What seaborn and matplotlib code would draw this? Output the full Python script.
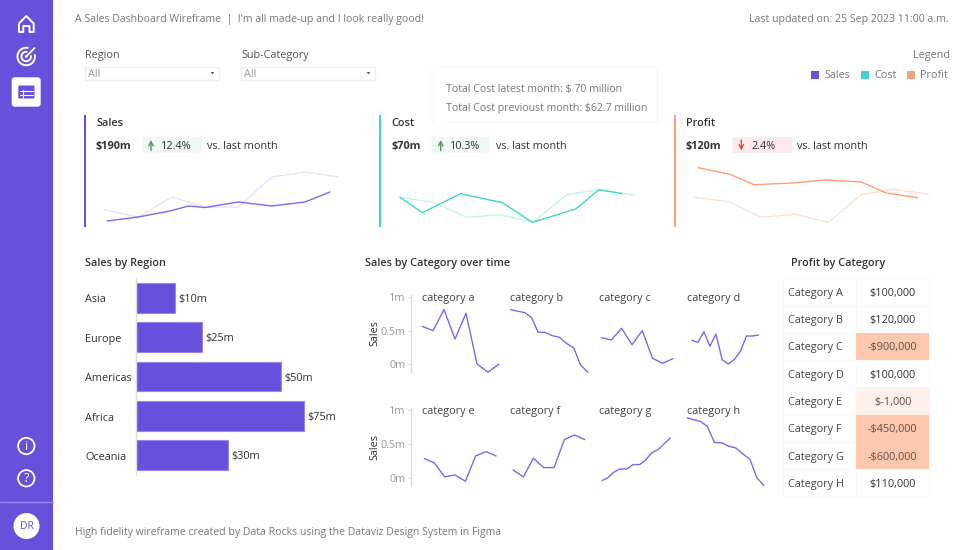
#!/usr/bin/env python3
"""
Sales dashboard wireframe rebuilt with seaborn
"""

import numpy as np
import pandas as pd
import matplotlib
matplotlib.use('Agg')
import matplotlib.pyplot as plt
import seaborn as sns
from matplotlib.colors import ListedColormap, BoundaryNorm
from matplotlib.patches import Rectangle, FancyBboxPatch, Circle, Arc, Polygon
from matplotlib.transforms import ScaledTranslation

# Colours
PURPLE = '#6650dc'
LINE_PURPLE = '#7b68ee'
TEAL = '#40d5ca'
ORANGE = '#ff9d78'
DARK = '#333333'
GREY = '#777777'
LIGHT_GREY = '#999999'
FS = 7.85

# KPI sparklines (index values), current and previous month
sales_t = [0.06, 1, 1.95, 2.5, 3, 4, 5, 6, 6.75]
sales_now = [7, 11, 17, 22, 20.5, 26, 22, 26, 36]
sales_prev = [18, 11, 31, 21, 21, 51, 56, 51]

cost_t = [0, 0.67, 1.82, 3.07, 3.97, 5.27, 5.97, 6.67]
cost_now = [30.7, 15.3, 34.3, 25.3, 5.7, 19, 38.3, 34.3]
cost_prev = [30.7, 25.7, 10.7, 13.3, 5.7, 33.3, 38.3, 33]

profit_t = [0.1, 1.05, 1.77, 2.92, 3.92, 4.99, 5.73, 6.68]
profit_now = [60.3, 53.7, 43.3, 45, 48, 46, 35, 30.3]
profit_prev = [30.7, 26.3, 10.7, 13.7, 5.7, 33.7, 38.7, 33.7]

prev_t = [0, 1, 2, 3, 4, 5, 6, 7]

# Sales by region: the drawn bars do not follow their own labels in the original
regions = ['Asia', 'Europe', 'Americas', 'Africa', 'Oceania']
region_bars = [17.5, 29.5, 64.7, 75, 41.2]
region_labels = ['$10m', '$25m', '$50m', '$75m', '$30m']

# Sales by category over time
cat_a_t = [0, 1, 2, 3, 4, 5, 6, 7]
cat_a = [0.567, 0.502, 0.816, 0.378, 0.761, 0.005, -0.119, 0.005]
cat_b_t = [0, 1.3, 1.91, 2.52, 3.12, 3.79, 4.45, 5.09, 5.76, 6.36, 7.03]
cat_b = [0.816, 0.771, 0.701, 0.478, 0.478, 0.428, 0.403, 0.313, 0.244, -0.005, -0.119]
cat_c_t = [0.23, 1.14, 2.07, 3.02, 3.95, 4.88, 5.79, 6.74]
cat_c = [0.397, 0.363, 0.537, 0.293, 0.501, 0.09, 0.015, 0.084]
cat_d_t = [0.43, 0.97, 1.52, 2.06, 2.61, 3.18, 3.73, 4.3, 4.85, 5.39, 5.94, 6.48]
cat_d = [0.358, 0.328, 0.487, 0.269, 0.452, 0.069, 0.004, 0.075, 0.199, 0.422, 0.422, 0.437]
cat_e_t = [0.21, 1.12, 2.06, 3, 3.94, 4.88, 5.82, 6.73]
cat_e = [0.286, 0.222, 0.015, 0.044, -0.049, 0.325, 0.389, 0.325]
cat_f_t = [0.24, 1.18, 2.09, 3.03, 3.97, 4.91, 5.82, 6.76]
cat_f = [0.118, 0.015, 0.291, 0.153, 0.153, 0.567, 0.635, 0.567]
cat_g_t = [0.29, 0.8, 1.35, 1.95, 2.56, 3.11, 3.71, 4.26, 4.8, 5.44, 5.95, 6.5]
cat_g = [-0.039, 0, 0.084, 0.133, 0.133, 0.197, 0.197, 0.266, 0.369, 0.424, 0.507, 0.591]
cat_h_t = [0, 1.18, 1.82, 2.48, 3.12, 3.79, 4.42, 5.06, 5.7, 6.33, 6.97]
cat_h = [0.887, 0.837, 0.764, 0.522, 0.522, 0.468, 0.443, 0.355, 0.276, 0.005, -0.113]

# Profit by category
categories = ['Category A', 'Category B', 'Category C', 'Category D',
              'Category E', 'Category F', 'Category G', 'Category H']
profit_values = [100000, 120000, -900000, 100000, -1000, -450000, -600000, 110000]
profit_labels = ['$100,000', '$120,000', '-$900,000', '$100,000',
                 '$-1,000', '-$450,000', '-$600,000', '$110,000']

sns.set_theme(style='white')
plt.rcParams['font.family'] = ['Open Sans', 'DejaVu Sans']
plt.rcParams['font.size'] = FS

W, H = 960, 550
fig = plt.figure(figsize=(W / 100, H / 100), dpi=100, facecolor='white')


def px_axes(x0, y0, x1, y1):
    """Axes placed by pixel box, y counted from the top of the image"""
    ax = fig.add_axes([x0 / W, 1 - y1 / H, (x1 - x0) / W, (y1 - y0) / H])
    ax.patch.set_alpha(0)
    return ax


# Full page layer for the interface pieces around the charts
ui = px_axes(0, 0, W, H)
ui.set_xlim(0, W)
ui.set_ylim(H, 0)
ui.axis('off')


def label(x, y, s, size=FS, color=DARK, weight='normal', ha='left'):
    # y is the middle of the capitals, so text sharing a row sits on one baseline
    ui.text(x, y + 3.8, s, fontsize=size, color=color, fontweight=weight, ha=ha, va='baseline')


def draw_sidebar():
    ui.add_patch(Rectangle((0, 0), 53, H, fc=PURPLE, ec='none'))
    ui.plot([0, 53], [502, 502], color='#9c8fe8', lw=1)

    # home
    house = [(19, 23.5), (26.3, 16), (33.7, 23.5), (33.7, 32), (29.5, 32), (29.5, 26),
             (23.3, 26), (23.3, 32), (19, 32)]
    ui.add_patch(Polygon(house, closed=True, fc='none', ec='white', lw=1.4, joinstyle='round'))

    # target
    ui.add_patch(Arc((26.2, 56.5), 17.5, 17.5, theta1=-15, theta2=285, ec='white', lw=1.4))
    ui.add_patch(Arc((26.2, 56.5), 9.5, 9.5, theta1=-15, theta2=285, ec='white', lw=1.4))
    ui.add_patch(Circle((26.2, 56.5), 1.3, fc='white', ec='none'))
    ui.plot([26.2, 34.5], [56.5, 48], color='white', lw=1.3)

    # table tile
    ui.add_patch(FancyBboxPatch((14.7, 80.3), 23, 23.4, boxstyle='round,pad=3,rounding_size=3',
                                fc='white', ec='none'))
    ui.add_patch(FancyBboxPatch((18.3, 85.5), 16.2, 13, boxstyle='round,pad=0,rounding_size=1',
                                fc=PURPLE, ec='none'))
    ui.plot([20, 33], [90.7, 90.7], color='white', lw=0.8)
    ui.plot([20, 33], [94.7, 94.7], color='white', lw=0.8)
    ui.plot([22.7, 22.7], [90, 97.5], color='white', lw=0.8)

    # info and help
    ui.add_patch(Circle((26.3, 446), 8.2, fc='none', ec='white', lw=1.3))
    ui.text(26.3, 446, 'i', color='white', fontsize=9, ha='center', va='center')
    ui.add_patch(Circle((26.3, 478.3), 8.2, fc='none', ec='white', lw=1.3))
    ui.text(26.3, 478.3, '?', color='white', fontsize=9, ha='center', va='center')

    # avatar
    ui.add_patch(Circle((26.5, 526), 13, fc='white', ec='none'))
    ui.text(26.5, 526.3, 'DR', color=PURPLE, fontsize=7.5, ha='center', va='center')


def draw_header():
    label(75, 18.5, "A Sales Dashboard Wireframe  |  I'm all made-up and I look really good!",
          size=7.6, color=GREY)
    label(949, 18.5, 'Last updated on: 25 Sep 2023 11:00 a.m.', size=7.65, color=GREY, ha='right')
    label(75, 531.5, 'High fidelity wireframe created by Data Rocks using the Dataviz Design System in Figma',
          size=7.6, color=GREY)

    # filters
    for x, name in [(85, 'Region'), (241, 'Sub-Category')]:
        label(x, 54.5, name, color='#555555')
        ui.add_patch(Rectangle((x, 67), 133.5, 12.5, fc='white', ec='#eeeeee', lw=1))
        label(x + 3, 73.5, 'All', color=LIGHT_GREY)
        ui.add_patch(Polygon([(x + 125.5, 72), (x + 129.5, 72), (x + 127.5, 74.5)], closed=True,
                             fc='#666666', ec='none'))

    # legend
    label(949.5, 54.5, 'Legend', color=GREY, ha='right')
    for x, name, col in [(811.3, 'Sales', PURPLE), (860.7, 'Cost', TEAL), (906.7, 'Profit', ORANGE)]:
        ui.add_patch(Rectangle((x, 71), 8, 8, fc=col, ec='none'))
        label(x + 13.4, 74.5, name, color=GREY)

    # section titles
    label(85, 262, 'Sales by Region', weight='semibold')
    label(365, 262, 'Sales by Category over time', weight='semibold')
    label(791, 262, 'Profit by Category', weight='semibold')


def draw_kpi(x, name, value, change, up, chip_x, chip_w, text_x, vs_x, col):
    ui.add_patch(Rectangle((x - 1, 115), 2, 112, fc=col, ec='none'))
    label(x + 11.5, 122.5, name, weight='semibold')
    label(x + 11.5, 145, value, weight='bold')
    chip = '#f0f8f3' if up else '#fdeaec'
    arrow = '#4f9a63' if up else '#e0483e'
    ui.add_patch(FancyBboxPatch((chip_x + 1, 138), chip_w - 2, 14, boxstyle='round,pad=1',
                                fc=chip, ec='none'))
    ax_x = chip_x + 9
    start, end = (150.5, 140) if up else (140, 150.5)
    ui.annotate('', xy=(ax_x, end), xytext=(ax_x, start),
                arrowprops=dict(arrowstyle='->', color=arrow, lw=1, shrinkA=0, shrinkB=0))
    label(text_x, 145, change)
    label(vs_x, 145, 'vs. last month')


def draw_tooltip():
    for grow, col in [(2, '#fbfbfb'), (0.8, '#f5f5f5')]:
        ui.add_patch(Rectangle((433.3 - grow, 68.3 - grow), 223.4 + 2 * grow, 52.7 + 2 * grow,
                               fc=col, ec='none'))
    ui.add_patch(Polygon([(433.3, 68.3), (656.7, 68.3), (656.7, 121), (447, 121), (440, 127),
                          (433.3, 121)], closed=True, fc='white', ec='none'))
    label(446, 88, 'Total Cost latest month: $ 70 million', size=7.55, color=GREY)
    label(446, 107, 'Total Cost previoust month: $62.7 million', size=7.55, color=GREY)


def draw_sparkline(x0, t, now, prev, col, tint):
    ax = px_axes(x0, 160, x0 + 245, 228)
    sns.lineplot(x=prev_t, y=prev, ax=ax, color=tint, lw=1.0, estimator=None)
    sns.lineplot(x=t, y=now, ax=ax, color=col, lw=1.0, estimator=None)
    ax.set_xlim(-0.15, 7.2)
    ax.set_ylim(0, 68)
    ax.axis('off')


def draw_region_bars():
    ax = px_axes(136, 278, 136 + 212.8, 475)
    sns.barplot(x=region_bars, y=regions, orient='h', color=PURPLE, saturation=1, width=0.76,
                edgecolor='#9487ec', linewidth=0.8, ax=ax)
    ax.set_xlim(0, 95)
    ax.set_ylim(4.5, -0.5)
    values = ax.bar_label(ax.containers[0], labels=region_labels, padding=2.5, fontsize=FS, color=DARK)
    for text in values:
        text.xyann = (text.xyann[0], text.xyann[1] - 1.1)
    ax.tick_params(axis='y', length=0, pad=36.7, labelsize=FS, labelcolor=DARK)
    for tick in ax.get_yticklabels():
        tick.set_ha('left')
        tick.set_transform(tick.get_transform() + ScaledTranslation(0, -0.7 / 100, fig.dpi_scale_trans))
    ax.set_xticks([])
    ax.set_xlabel('')
    ax.set_ylabel('')
    sns.despine(ax=ax, top=True, right=True, bottom=True)
    ax.spines['left'].set_color('#dddddd')
    ax.spines['left'].set_linewidth(1)


def draw_small_multiples():
    panels = [('category a', cat_a_t, cat_a), ('category b', cat_b_t, cat_b),
              ('category c', cat_c_t, cat_c), ('category d', cat_d_t, cat_d),
              ('category e', cat_e_t, cat_e), ('category f', cat_f_t, cat_f),
              ('category g', cat_g_t, cat_g), ('category h', cat_h_t, cat_h)]
    for i, (name, t, vals) in enumerate(panels):
        row, col = divmod(i, 4)
        left = 410.7 + 88.4 * col
        top, bottom = (295, 372) if row == 0 else (408, 485.7)
        ax = px_axes(left, top, left + 88.3, bottom)
        sns.lineplot(x=t, y=vals, ax=ax, color=LINE_PURPLE, lw=1.0, estimator=None, clip_on=False)
        ax.set_xlim(-1.03, 7.0)
        ax.set_ylim(-0.115, 1.034)
        ax.set_xticks([])
        ax.annotate(name, (0, 1), xytext=(0, -2.45), textcoords='offset points', fontsize=FS,
                    color='#444444', ha='left', va='baseline')
        sns.despine(ax=ax, top=True, right=True, bottom=True, left=col != 0)
        if col == 0:
            ax.set_yticks([0, 0.5, 1])
            ax.set_yticklabels(['0m', '0.5m', '1m'])
            ax.tick_params(axis='y', left=True, length=2, width=0.8, color='#dddddd', pad=1.5,
                           labelsize=FS, labelcolor=LIGHT_GREY)
            ax.spines['left'].set_color('#dddddd')
            ax.spines['left'].set_linewidth(1)
            ax.set_ylabel('Sales', fontsize=FS, color=DARK, labelpad=0)
        else:
            ax.set_yticks([])
            ax.set_ylabel('')


def draw_profit_table():
    # faint outlines under every cell, white cells of the heatmap stay see-through
    for i in range(8):
        for x, w in [(782.7, 73.3), (856, 73.3)]:
            ui.add_patch(Rectangle((x, 278.3 + i * 27.27), w, 27.27, fc='white', ec='#f8f8f8', lw=0.7))
    ax = px_axes(856, 278.3, 929.3, 496.5)
    table = pd.DataFrame({'Profit': profit_values}, index=categories)
    cmap = ListedColormap(['#fdc7b0', '#fff0ea', (1, 1, 1, 0)])
    norm = BoundaryNorm([-1e7, -100000, 0, 1e7], cmap.N)
    sns.heatmap(table, cmap=cmap, norm=norm, cbar=False, annot=np.array(profit_labels).reshape(-1, 1),
                fmt='', annot_kws={'fontsize': FS, 'color': DARK}, linewidths=0,
                xticklabels=False, yticklabels=categories, ax=ax)
    nudge = ScaledTranslation(0, -1.5 / 100, fig.dpi_scale_trans)
    for text, value in zip(ax.texts, profit_values):
        text.set_color('#6b4b42' if value < 0 else DARK)
        text.set_transform(text.get_transform() + nudge)
    ax.tick_params(axis='y', length=0, pad=49, labelsize=FS, labelcolor='#444444', rotation=0)
    for tick in ax.get_yticklabels():
        tick.set_ha('left')
        tick.set_transform(tick.get_transform() + nudge)
    ax.set_ylabel('')


def main():
    draw_sidebar()
    draw_header()
    draw_kpi(84.5, 'Sales', '$190m', '12.4%', True, 142, 60, 161, 207, PURPLE)
    draw_kpi(379.5, 'Cost', '$70m', '10.3%', True, 431.7, 58.3, 450, 495.7, TEAL)
    draw_kpi(674.5, 'Profit', '$120m', '2.4%', False, 732.3, 59.7, 751, 797, ORANGE)
    draw_tooltip()
    draw_sparkline(100, sales_t, sales_now, sales_prev, LINE_PURPLE, '#e6e2fb')
    draw_sparkline(395, cost_t, cost_now, cost_prev, TEAL, '#c4f2ee')
    draw_sparkline(690, profit_t, profit_now, profit_prev, ORANGE, '#ffe0d4')
    draw_region_bars()
    draw_small_multiples()
    draw_profit_table()
    fig.savefig('out.png', dpi=100)


if __name__ == "__main__":
    main()
